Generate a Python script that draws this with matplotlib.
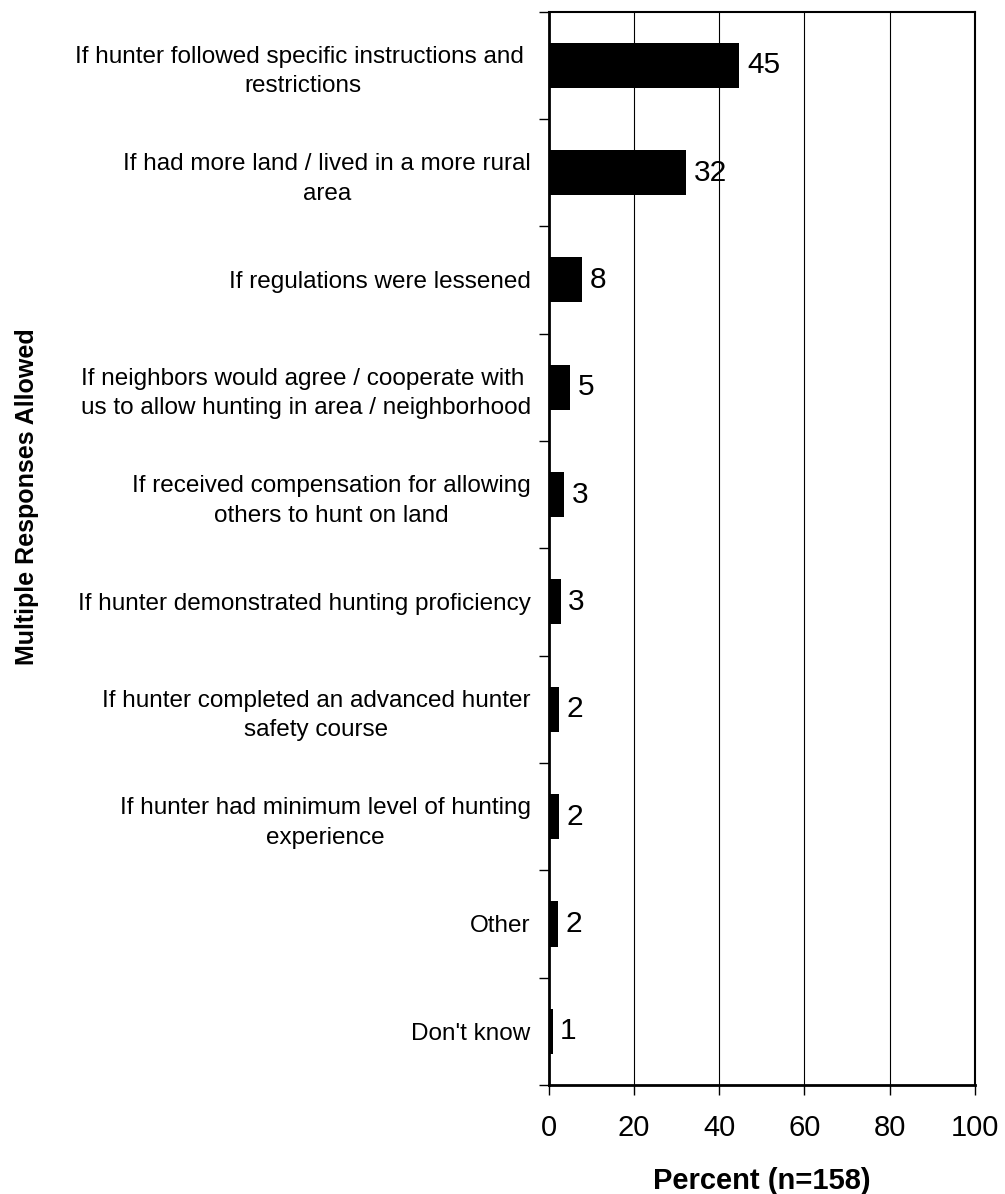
import numpy as np
import matplotlib
matplotlib.use("Agg")
import matplotlib.pyplot as plt
from matplotlib.ticker import FixedLocator

plt.rcParams['font.family'] = ['Liberation Sans', 'DejaVu Sans']

# --- data ---
categories = [
    "If hunter followed specific instructions and \nrestrictions",
    "If had more land / lived in a more rural\narea",
    "If regulations were lessened",
    "If neighbors would agree / cooperate with \nus to allow hunting in area / neighborhood",
    "If received compensation for allowing\nothers to hunt on land",
    "If hunter demonstrated hunting proficiency",
    "If hunter completed an advanced hunter\nsafety course",
    "If hunter had minimum level of hunting\nexperience",
    "Other",
    "Don't know",
]
values = [44.7, 32.2, 7.9, 5.0, 3.7, 2.8, 2.4, 2.3, 2.2, 0.9]
value_labels = ["45", "32", "8", "5", "3", "3", "2", "2", "2", "1"]
x_ticks = [0, 20, 40, 60, 80, 100]

fig = plt.figure(figsize=(10.05, 11.94), dpi=100)
ax = fig.add_axes([0.546, 0.0913, 0.424, 0.899])

n = len(categories)
ypos = np.arange(n)
ax.barh(ypos, values, height=0.42, color='black', zorder=3)

for y, v, lab in zip(ypos, values, value_labels):
    ax.text(v + 1.8, y, lab, va='center', ha='left', fontsize=21.5, zorder=4)

ax.set_xlim(0, 100)
ax.set_ylim(n - 0.5, -0.5)
ax.set_xticks(x_ticks)
ax.set_xticklabels([str(t) for t in x_ticks], fontsize=21)
ax.tick_params(axis='x', direction='out', length=7, width=1, pad=14)

ax.set_yticks(ypos)
ax.set_yticklabels(categories, fontsize=17.5, multialignment='center',
                   linespacing=1.45)
ax.tick_params(axis='y', which='major', length=0, pad=13)
ax.yaxis.set_minor_locator(FixedLocator(np.arange(-0.5, n, 1.0)))
ax.tick_params(axis='y', which='minor', direction='out', length=7, width=1)

for xv in x_ticks[1:-1]:
    ax.axvline(xv, color='black', lw=0.8, zorder=1)

for side in ['left', 'bottom']:
    ax.spines[side].set_linewidth(2)
for side in ['top', 'right']:
    ax.spines[side].set_linewidth(1.5)

ax.set_xlabel("Percent (n=158)", fontsize=21, fontweight='bold', labelpad=18)
fig.text(0.027, 0.584, "Multiple Responses Allowed", rotation=90, fontsize=18,
         fontweight='bold', ha='center', va='center')

fig.savefig("out.png", dpi=100)
